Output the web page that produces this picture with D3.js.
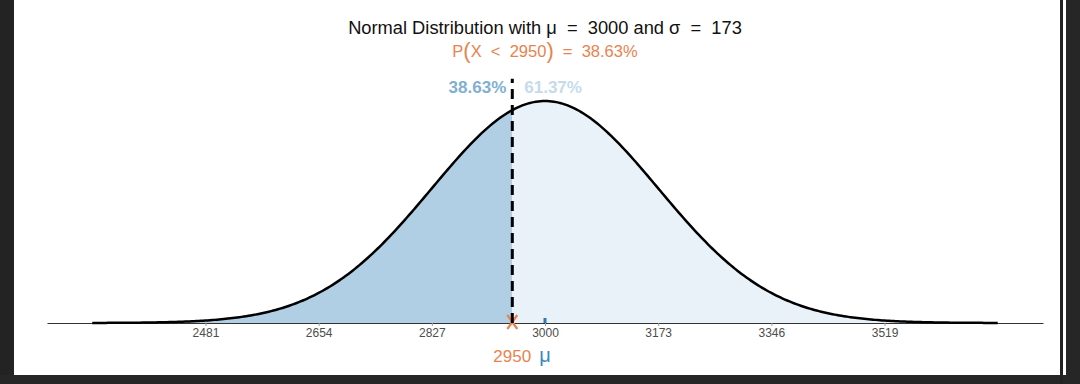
<!DOCTYPE html>
<html>
<head>
<meta charset="utf-8">
<script src="https://cdn.jsdelivr.net/npm/d3@7"></script>
<style>
  body { margin: 0; background: #fff; }
  svg { display: block; font-family: "Liberation Sans", Arial, Helvetica, sans-serif; }
</style>
</head>
<body>
<div id="chart"></div>
<script>
// distribution parameters, read from the title
const mu = 3000;
const sigma = 173;
const cutoff = 2950;
const tickValues = [2481, 2654, 2827, 3000, 3173, 3346, 3519];
const areaLabels = ["38.63%", "61.37%"];
const probText = "38.63%";

const W = 1080, H = 384;
const svg = d3.select('#chart').append('svg').attr('width', W).attr('height', H);

// screenshot frame (dark strips round the picture)
svg.append('rect').attr('x', 0).attr('y', 0).attr('width', 14).attr('height', H).attr('fill', '#232323');
svg.append('rect').attr('x', 0).attr('y', 375).attr('width', W).attr('height', 9).attr('fill', '#262626');
svg.append('rect').attr('x', 1060).attr('y', 0).attr('width', 3).attr('height', H).attr('fill', '#222');
svg.append('rect').attr('x', 1066).attr('y', 0).attr('width', 14).attr('height', H).attr('fill', '#262626');

const lo = mu - 4*sigma, hi = mu + 4*sigma;
const pad = (hi - lo) * 0.05;
const x = d3.scaleLinear().domain([lo - pad, hi + pad]).range([47, 1043]);
const pdf = v => Math.exp(-0.5*((v-mu)/sigma)**2) / (sigma*Math.sqrt(2*Math.PI));
const peak = pdf(mu);
const y = d3.scaleLinear().domain([0, peak]).range([323, 101]);

const pts = d3.range(0, 401).map(i => lo + (hi-lo)*i/400);
const left = pts.filter(v => v <= cutoff).concat([cutoff]);
const right = [cutoff].concat(pts.filter(v => v > cutoff));

const area = d3.area().x(d => x(d)).y0(y(0)).y1(d => y(pdf(d)));
svg.append('path').attr('d', area(left)).attr('fill', '#b1cfe4');
svg.append('path').attr('d', area(right)).attr('fill', '#e9f2f8');

// axis
const axis = d3.axisBottom(x).tickValues(tickValues).tickFormat(d3.format('d'))
  .tickSize(3).tickPadding(2).tickSizeOuter(0);
const gx = svg.append('g').attr('transform', `translate(0,${y(0)})`).call(axis);
gx.select('.domain').attr('stroke', '#333').attr('stroke-width', 1);
gx.selectAll('.tick line').attr('stroke', '#999');
gx.selectAll('.tick text').attr('fill', '#4d4d4d').attr('font-size', 12)
  .attr('font-family', '"Liberation Sans", Arial, sans-serif');

// density curve
svg.append('path')
  .attr('d', d3.line().x(d => x(d)).y(d => y(pdf(d)))(pts))
  .attr('fill', 'none').attr('stroke', '#000').attr('stroke-width', 2.5);

// mean tick
svg.append('line')
  .attr('x1', x(mu)).attr('x2', x(mu)).attr('y1', y(0)).attr('y2', y(0) - 5)
  .attr('stroke', '#2b7bba').attr('stroke-width', 3);

// cutoff marker
const mx = x(cutoff), my = y(0) - 1;
svg.append('path')
  .attr('d', `M${mx-5},${my-7}L${mx+5},${my+7}M${mx+5},${my-7}L${mx-5},${my+7}`)
  .attr('stroke', '#e8834e').attr('stroke-width', 2.2).attr('fill', 'none');

// cutoff line
svg.append('line')
  .attr('x1', x(cutoff)).attr('x2', x(cutoff))
  .attr('y1', y(0)).attr('y2', y(peak*1.1))
  .attr('stroke', '#000').attr('stroke-width', 3).attr('stroke-dasharray', '10,6');

// labels under axis
svg.append('text').attr('x', x(cutoff)).attr('y', 362).attr('text-anchor', 'middle')
  .attr('font-size', 17).attr('fill', '#e8834e').text(cutoff);
svg.append('text').attr('x', x(mu)).attr('y', 362).attr('text-anchor', 'middle')
  .attr('font-size', 20).attr('fill', '#3a88c0').text('μ');

// area percentages
svg.append('text').attr('x', x(cutoff) - 6).attr('y', 93).attr('text-anchor', 'end')
  .attr('font-size', 17).attr('font-weight', 'bold').attr('fill', '#7fb0d2').text(areaLabels[0]);
svg.append('text').attr('x', x(cutoff) + 12).attr('y', 93).attr('text-anchor', 'start')
  .attr('font-size', 17).attr('font-weight', 'bold').attr('fill', '#c5dbea').text(areaLabels[1]);

// titles
svg.append('text').attr('x', 545).attr('y', 34).attr('text-anchor', 'middle')
  .attr('font-size', 18.3).attr('fill', '#111').style('white-space', 'pre')
  .text(`Normal Distribution with μ  =  ${mu} and σ  =  ${sigma}`);
const sub = svg.append('text').attr('x', 545).attr('y', 57).attr('text-anchor', 'middle')
  .attr('font-size', 16.5).attr('fill', '#e8834e').style('white-space', 'pre');
sub.append('tspan').text('P');
sub.append('tspan').attr('font-size', 22).attr('dy', 1).text('(');
sub.append('tspan').attr('dy', -1).text(`X  <  ${cutoff}`);
sub.append('tspan').attr('font-size', 22).attr('dy', 1).text(')');
sub.append('tspan').attr('dy', -1).text(`  =  ${probText}`);
</script>
</body>
</html>
